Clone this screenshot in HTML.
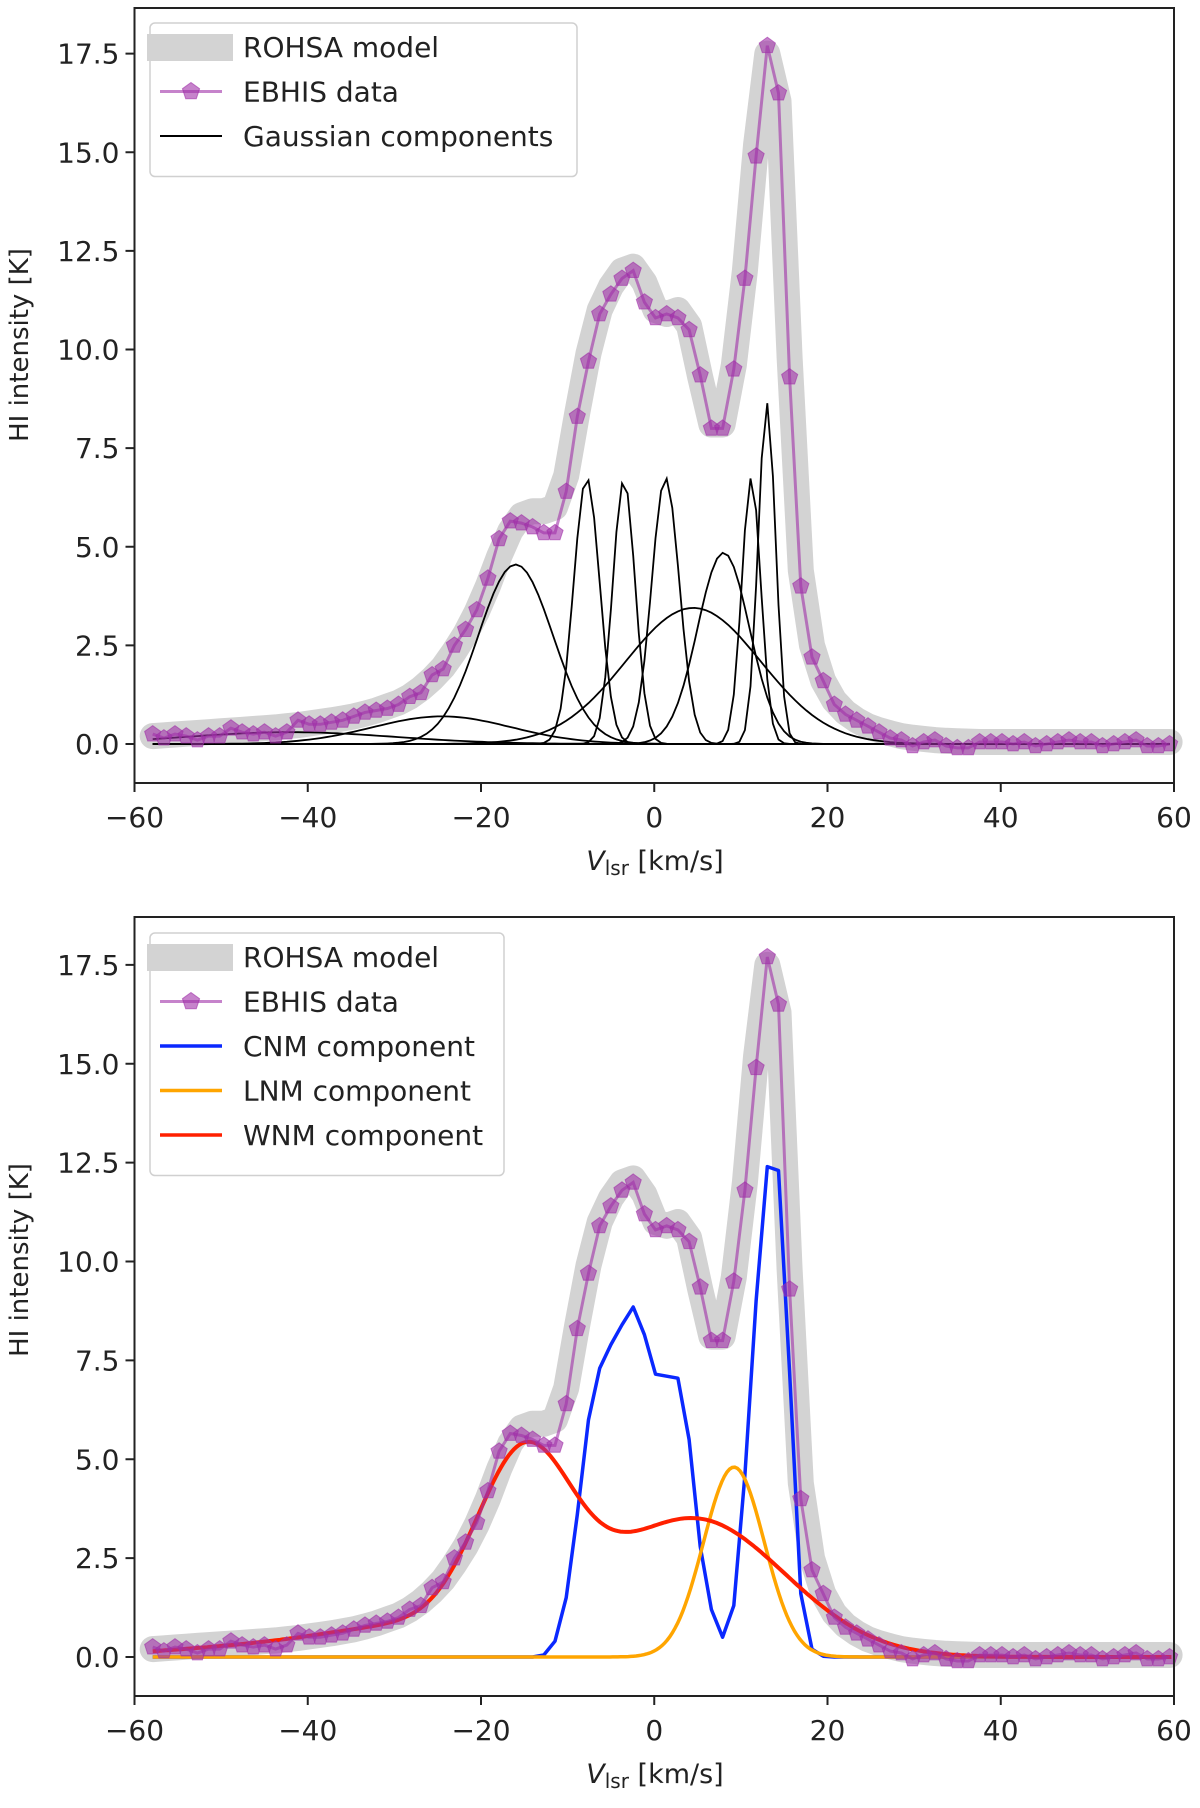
<!DOCTYPE html>
<html><head><meta charset="utf-8"><style>
html,body{margin:0;padding:0;background:#fff;}
svg{display:block;}
text{font-family:"DejaVu Sans","Liberation Sans",sans-serif;fill:#222;}
</style></head><body>
<svg id="fig" width="1200" height="1808" viewBox="0 0 1200 1808" xmlns="http://www.w3.org/2000/svg"></svg>
<script>
// ---- data ----
const channelStart = -57.9;
const channelStep = 1.29;
const ebhisValues = [0.25,0.15,0.25,0.2,0.1,0.2,0.2,0.4,0.3,0.25,0.3,0.2,0.3,0.6,0.5,0.5,0.55,0.6,0.7,0.8,0.85,0.9,1.0,1.2,1.3,1.75,1.9,2.5,2.9,3.4,4.2,5.2,5.65,5.6,5.5,5.35,5.35,6.4,8.3,9.7,10.9,11.4,11.8,12.0,11.2,10.8,10.9,10.8,10.5,9.35,8.0,8.0,9.5,11.8,14.9,17.7,16.5,9.3,4.0,2.2,1.6,1.0,0.75,0.6,0.45,0.3,0.15,0.1,-0.05,0.05,0.1,-0.05,-0.1,-0.1,0.05,0.05,0.05,0.0,0.05,-0.05,0.0,0.05,0.1,0.05,0.05,-0.05,0.0,0.05,0.1,-0.05,-0.05,0.0];
const modelValues = [0.2,0.22,0.24,0.26,0.28,0.3,0.32,0.34,0.36,0.38,0.4,0.42,0.45,0.48,0.52,0.56,0.6,0.65,0.7,0.77,0.85,0.95,1.05,1.2,1.4,1.65,1.95,2.35,2.8,3.35,4.0,4.75,5.4,5.8,5.9,5.9,6.0,6.8,8.4,9.9,11.0,11.6,12.0,12.1,11.7,11.0,10.9,11.0,10.6,9.3,8.1,8.1,9.6,12.0,15.2,17.5,16.3,9.8,4.4,2.5,1.6,1.1,0.8,0.6,0.45,0.35,0.27,0.2,0.16,0.13,0.1,0.08,0.07,0.06,0.05,0.05,0.05,0.05,0.05,0.05,0.05,0.05,0.05,0.05,0.05,0.05,0.05,0.05,0.05,0.05,0.05,0.05];
const gaussAmp    = [4.55, 0.7, 0.3, 6.75, 6.7, 6.75, 3.45, 4.85, 6.75, 8.65];
const gaussCenter = [-16, -24.5, -42, -7.8, -3.5, 1.3, 4.5, 8, 11.2, 13];
const gaussSigma  = [4.3, 8, 12, 1.5, 1.3, 1.6, 7.8, 3.0, 1.1, 1.0];
const cnmValues = [0,0,0,0,0,0,0,0,0,0,0,0,0,0,0,0,0,0,0,0,0,0,0,0,0,0,0,0,0,0,0,0,0,0,0,0.05,0.4,1.5,3.6,6.0,7.3,7.9,8.4,8.85,8.15,7.15,7.1,7.05,5.5,2.8,1.2,0.5,1.3,4.6,9.0,12.4,12.3,7.2,1.6,0.2,0.02,0,0,0,0,0,0,0,0,0,0,0,0,0,0,0,0,0,0,0,0,0,0,0,0,0,0,0,0,0,0,0];
const lnmAmp = [4.8];
const lnmCenter = [9.2];
const lnmSigma = [3.5];
const wnmAmp = [4.45, 0.7, 0.25, 3.5];
const wnmCenter = [-15, -27, -45, 4.5];
const wnmSigma = [5.5, 10, 12, 10.5];
const xTicks = [-60,-40,-20,0,20,40,60];
const yTicks = [0,2.5,5,7.5,10,12.5,15,17.5];
const xTickLabels = ["\u221260","\u221240","\u221220","0","20","40","60"];
const yTickLabels = ["0.0","2.5","5.0","7.5","10.0","12.5","15.0","17.5"];

// ---- layout ----
const NS = "http://www.w3.org/2000/svg";
const svg = document.getElementById('fig');
function mk(tag, attrs, parent){
  const e = document.createElementNS(NS, tag);
  for (const k in attrs) e.setAttribute(k, attrs[k]);
  (parent||svg).appendChild(e);
  return e;
}
const X0 = 134.5, X1 = 1174, XMIN = -60, XMAX = 60;
function sx(v){ return X0 + (v - XMIN) / (XMAX - XMIN) * (X1 - X0); }
function gauss(a,c,s,x){ return a*Math.exp(-(x-c)*(x-c)/(2*s*s)); }
function chX(i){ return channelStart + channelStep*i; }

function makePanel(p){
  const sy = v => p.zero - v * p.unit;
  const g = mk('g', {});
  
  
  let pts = modelValues.map((v,i)=> sx(chX(i)).toFixed(1)+','+sy(v).toFixed(1)).join(' ');
  const band = mk('polyline', {points:pts, fill:'none', stroke:'#d3d3d3', 'stroke-width':26, 'stroke-linejoin':'round','stroke-linecap':'round'}, g);
  
  
  p.drawComponents(g, sy);
  pts = ebhisValues.map((v,i)=> sx(chX(i)).toFixed(1)+','+sy(v).toFixed(1)).join(' ');
  const dl = mk('polyline', {points:pts, fill:'none', stroke:'#a030a8', 'stroke-opacity':0.6, 'stroke-width':3}, g);
  
  
  ebhisValues.forEach((v,i)=>{
    const cx = sx(chX(i)), cy = sy(v);
    const m = mk('polygon', {points: pent(cx,cy,8.5), fill:'#a030a8','fill-opacity':0.6, stroke:'#a030a8','stroke-opacity':0.6,'stroke-width':1}, g);
    
    
  });
  const fr = mk('rect', {x:X0, y:p.top, width:X1-X0, height:p.bottom-p.top, fill:'none', stroke:'#222', 'stroke-width':2}, g);
  
  
  xTicks.forEach((t,i)=>{
    mk('line', {x1:sx(t), x2:sx(t), y1:p.bottom, y2:p.bottom+9, stroke:'#222','stroke-width':2}, g);
    const tx = mk('text', {x:sx(t), y:p.bottom+44, 'font-size':28, 'text-anchor':'middle'}, g);
    tx.textContent = xTickLabels[i];
    
    
  });
  yTicks.forEach((t,i)=>{
    mk('line', {x1:X0-9, x2:X0, y1:sy(t), y2:sy(t), stroke:'#222','stroke-width':2}, g);
    const tx = mk('text', {x:X0-15, y:sy(t)+10, 'font-size':28, 'text-anchor':'end'}, g);
    tx.textContent = yTickLabels[i];
    
    
  });
  const xt = mk('text', {x:655, y:p.bottom+87, 'font-size':27, 'text-anchor':'middle'}, g);
  xt.innerHTML = '<tspan font-style="italic">V</tspan><tspan font-size="20" dy="5">lsr</tspan><tspan dy="-5"> [km/s]</tspan>';
  
  
  const yt = mk('text', {x:0, y:0, 'font-size':26, 'text-anchor':'middle', transform:'translate(28,'+p.ylabelY+') rotate(-90)'}, g);
  yt.textContent = 'HI intensity [K]';
  
  
  const lg = mk('g', {}, g);
  
  
  const n = p.legend.length;
  mk('rect', {x:150, y:p.legTop, width:p.legW, height:20+n*44.5, rx:5, fill:'#fff','fill-opacity':0.8, stroke:'#d0d0d0','stroke-width':1.5}, lg);
  p.legend.forEach((e,i)=>{
    const cy = p.legTop + 24 + i*44.5;
    const entry = mk('g', {}, lg);
    
    
    if (e.type==='band') mk('rect', {x:147, y:cy-13, width:86, height:27, fill:'#d3d3d3'}, entry);
    else if (e.type==='data'){
      mk('line', {x1:160, x2:222, y1:cy, y2:cy, stroke:'#a030a8','stroke-opacity':0.6,'stroke-width':3}, entry);
      mk('polygon', {points:pent(191,cy,9), fill:'#a030a8','fill-opacity':0.6, stroke:'#a030a8','stroke-opacity':0.6}, entry);
    } else mk('line', {x1:160, x2:222, y1:cy, y2:cy, stroke:e.color,'stroke-width':e.w}, entry);
    const t = mk('text', {x:243, y:cy+10, 'font-size':28}, entry);
    t.textContent = e.label;
  });
}
function pent(cx,cy,r){
  const a=[];
  for(let k=0;k<5;k++){ const ang=-Math.PI/2+k*2*Math.PI/5; a.push((cx+r*Math.cos(ang)).toFixed(1)+','+(cy+r*Math.sin(ang)).toFixed(1)); }
  return a.join(' ');
}
function curvePts(fn, sy, step){
  const a=[];
  for(let x=-57.9; x<=59.9; x+=step) a.push(sx(x).toFixed(1)+','+sy(fn(x)).toFixed(1));
  return a.join(' ');
}

makePanel({
  name:'top-panel', top:8, bottom:783, zero:744, unit:39.45, ylabelY:345, legTop:23, legW:427,
  legend:[{type:'band',label:'ROHSA model'},{type:'data',label:'EBHIS data'},{type:'line',color:'#000',w:2,label:'Gaussian components'}],
  drawComponents:(g, sy)=>{
    for(let k=0;k<gaussAmp.length;k++){
      const l = mk('polyline', {points:curvePts(x=>gauss(gaussAmp[k],gaussCenter[k],gaussSigma[k],x), sy, 0.645), fill:'none', stroke:'#000','stroke-width':1.8}, g);
      
      
    }
  }
});
makePanel({
  name:'bottom-panel', top:917, bottom:1696, zero:1657, unit:39.55, ylabelY:1260, legTop:933, legW:354,
  legend:[{type:'band',label:'ROHSA model'},{type:'data',label:'EBHIS data'},{type:'line',color:'#0a28ff',w:3.5,label:'CNM component'},{type:'line',color:'#ffa500',w:3.5,label:'LNM component'},{type:'line',color:'#ff2000',w:3.5,label:'WNM component'}],
  drawComponents:(g, sy)=>{
    const cp = cnmValues.map((v,i)=> sx(chX(i)).toFixed(1)+','+sy(v).toFixed(1)).join(' ');
    const c = mk('polyline', {points:cp, fill:'none', stroke:'#0a28ff','stroke-width':3.5,'stroke-linejoin':'round'}, g);
    
    
    const o = mk('polyline', {points:curvePts(x=>gauss(lnmAmp[0],lnmCenter[0],lnmSigma[0],x), sy, 0.3), fill:'none', stroke:'#ffa500','stroke-width':3.5}, g);
    
    
    const r = mk('polyline', {points:curvePts(x=>{let s=0;for(let k=0;k<wnmAmp.length;k++)s+=gauss(wnmAmp[k],wnmCenter[k],wnmSigma[k],x);return s;}, sy, 0.3), fill:'none', stroke:'#ff2000','stroke-width':4}, g);
    
    
  }
});
</script>
</body></html>
